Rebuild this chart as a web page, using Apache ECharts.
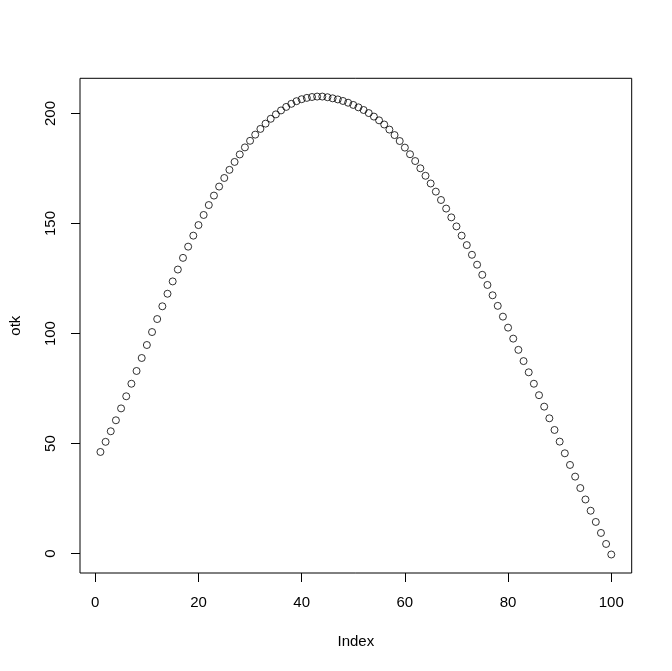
<!DOCTYPE html>
<html>
<head>
<meta charset="utf-8">
<script src="https://cdn.jsdelivr.net/npm/echarts@6/dist/echarts.min.js"></script>
<style>
html,body{margin:0;padding:0;background:#fff;}
#chart{width:672px;height:671px;}
</style>
</head>
<body>
<div id="chart"></div>
<script>
// otk values, index 1..100
const otk = [
  46.2, 50.8, 55.6, 60.6, 66.0, 71.5, 77.2, 83.0, 88.9, 94.8,
  100.7, 106.6, 112.4, 118.1, 123.7, 129.1, 134.4, 139.5, 144.5, 149.3,
  153.9, 158.4, 162.7, 166.8, 170.7, 174.4, 178.0, 181.4, 184.6, 187.6,
  190.4, 193.0, 195.4, 197.6, 199.6, 201.4, 203.0, 204.4, 205.6, 206.5,
  207.1, 207.5, 207.7, 207.7, 207.4, 206.9, 206.4, 205.7, 204.9, 203.9,
  202.8, 201.6, 200.2, 198.6, 196.9, 195.0, 192.7, 190.2, 187.5, 184.5,
  181.5, 178.4, 175.1, 171.7, 168.2, 164.5, 160.7, 156.8, 152.8, 148.7,
  144.5, 140.2, 135.8, 131.3, 126.7, 122.1, 117.4, 112.6, 107.7, 102.7,
  97.7, 92.6, 87.5, 82.4, 77.2, 72.0, 66.8, 61.5, 56.2, 50.9,
  45.6, 40.3, 35.0, 29.8, 24.6, 19.5, 14.4, 9.4, 4.4, -0.4
];
const xTicks = [0, 20, 40, 60, 80, 100];
const yTicks = [0, 50, 100, 150, 200];
const xTitle = 'Index';
const yTitle = 'otk';

const points = otk.map((v, i) => [i + 1, v]);
const font = '"Liberation Sans", Arial, sans-serif';

const chart = echarts.init(document.getElementById('chart'), null, {renderer: 'canvas'});
chart.setOption({
  animation: false,
  backgroundColor: '#ffffff',
  grid: {
    left: 78.3, top: 78.3, width: 553.4, height: 494.7,
    show: true, borderColor: '#000', borderWidth: 1, backgroundColor: 'transparent',
    containLabel: false
  },
  xAxis: {
    type: 'value', min: -2.96, max: 103.96, position: 'bottom',
    axisLine: {show: false, onZero: false},
    splitLine: {show: false},
    axisTick: {show: true, inside: false, length: 9, lineStyle: {color: '#000', width: 1}, customValues: xTicks},
    axisLabel: {customValues: xTicks, color: '#000', fontFamily: font, fontSize: 15, margin: 22},
    name: xTitle, nameLocation: 'middle', nameGap: 61,
    nameTextStyle: {color: '#000', fontFamily: font, fontSize: 15}
  },
  yAxis: {
    type: 'value', min: -8.8, max: 216.0, position: 'left',
    axisLine: {show: false, onZero: false},
    splitLine: {show: false},
    axisTick: {show: true, inside: false, length: 9, lineStyle: {color: '#000', width: 1}, customValues: yTicks},
    axisLabel: {customValues: yTicks, color: '#000', fontFamily: font, fontSize: 15, margin: 22, rotate: 90},
    name: yTitle, nameLocation: 'middle', nameGap: 57, nameRotate: 90,
    nameTextStyle: {color: '#000', fontFamily: font, fontSize: 15}
  },
  series: [{
    type: 'scatter',
    data: points,
    symbol: 'circle',
    symbolSize: 7,
    itemStyle: {color: 'rgba(0,0,0,0)', borderColor: '#000', borderWidth: 1},
    emphasis: {disabled: true}
  }]
});
</script>
</body>
</html>
